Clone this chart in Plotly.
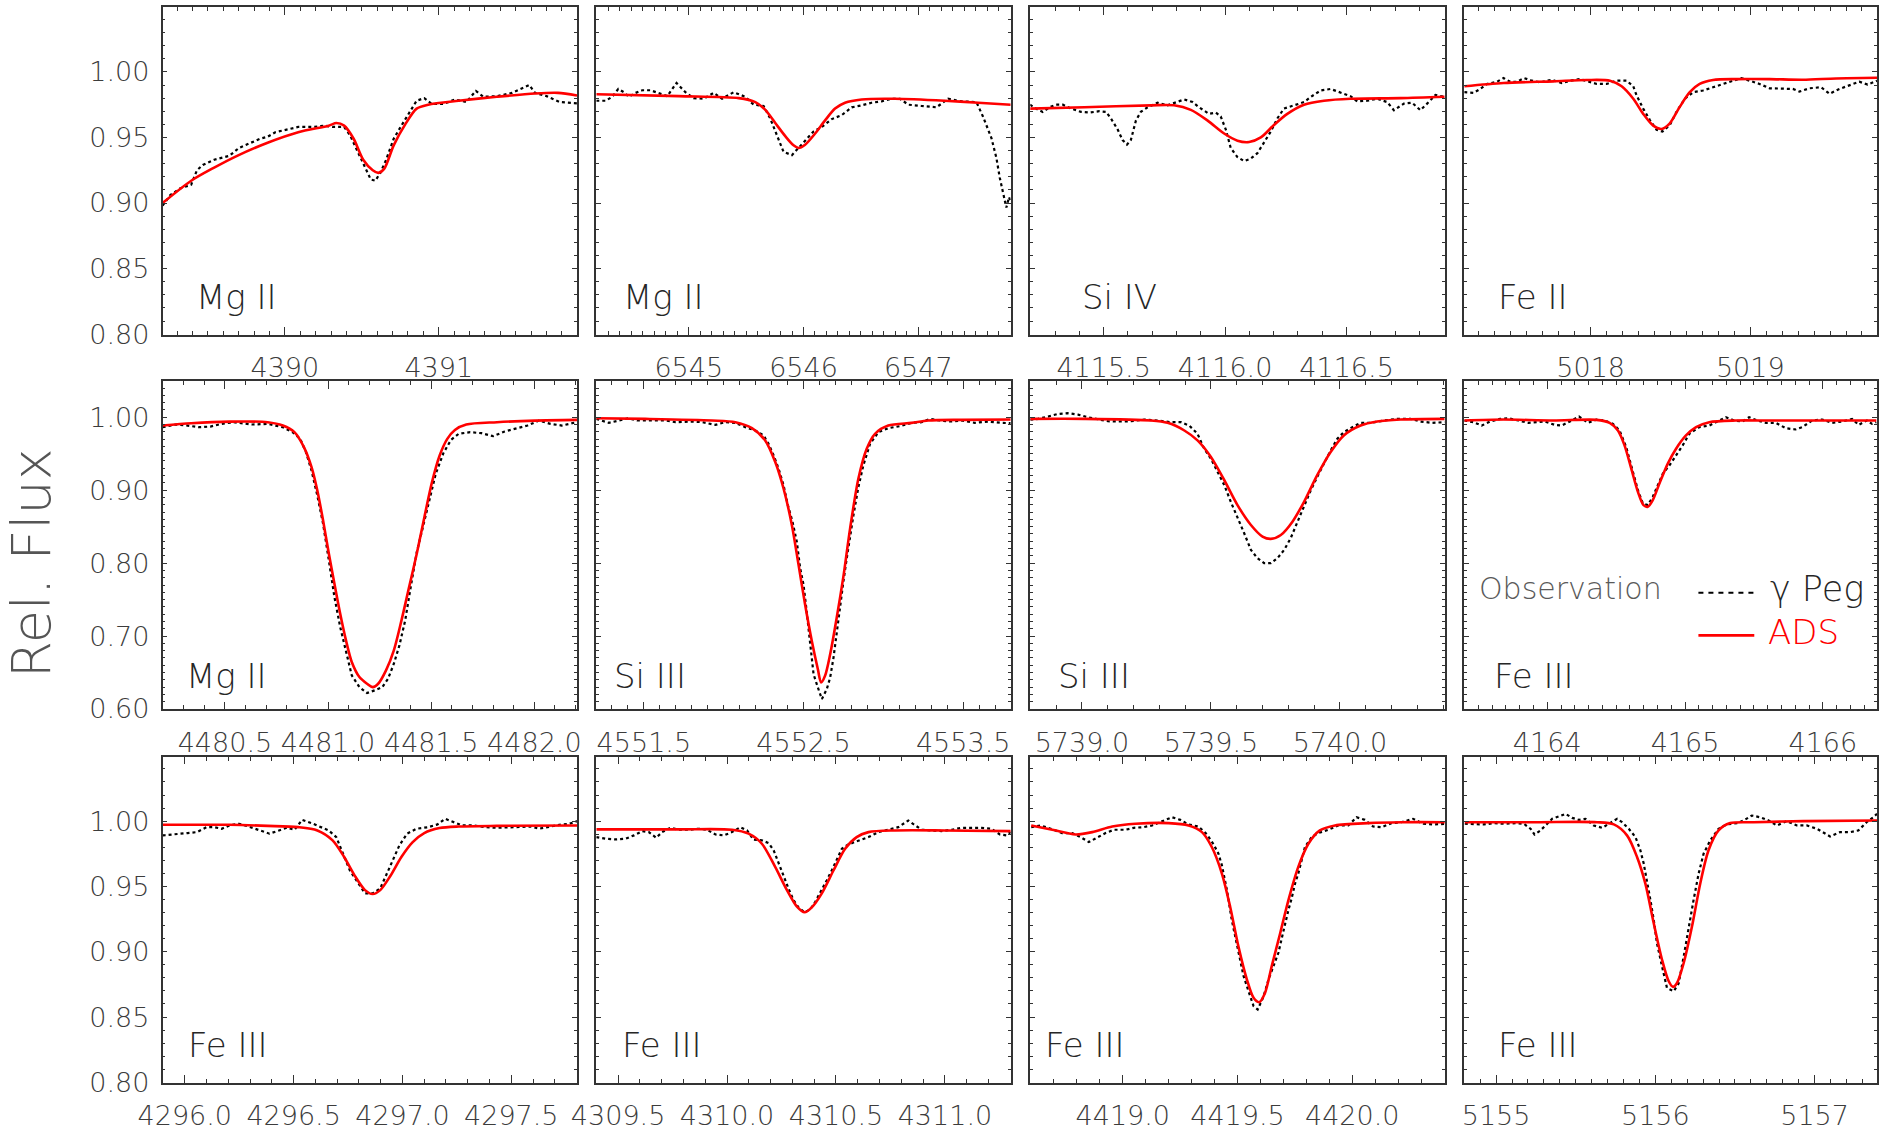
import plotly.graph_objects as go

# ---------------- data (wavelength in Angstrom, relative flux) ----------------
ions = ["Mg II", "Mg II", "Si IV", "Fe II",
        "Mg II", "Si III", "Si III", "Fe III",
        "Fe III", "Fe III", "Fe III", "Fe III"]

# Panel 1: Mg II 4390.6
p1_obs_x = [4389.206, 4389.256, 4389.318, 4389.392, 4389.429, 4389.467, 4389.541, 4389.640, 4389.702, 4389.764,
            4389.839, 4389.888, 4389.938, 4390.012, 4390.087, 4390.186, 4390.261, 4390.310, 4390.385, 4390.422,
            4390.471, 4390.521, 4390.558, 4390.588, 4390.620, 4390.658, 4390.707, 4390.757, 4390.806, 4390.856,
            4390.906, 4390.955, 4391.030, 4391.104, 4391.179, 4391.241, 4391.290, 4391.377, 4391.476, 4391.551,
            4391.588, 4391.625, 4391.700, 4391.787, 4391.898]
p1_obs_y = [0.898, 0.906, 0.911, 0.914, 0.925, 0.929, 0.933, 0.936, 0.942, 0.945,
            0.949, 0.9505, 0.954, 0.956, 0.958, 0.958, 0.959, 0.958, 0.958, 0.952,
            0.940, 0.927, 0.918, 0.917, 0.923, 0.933, 0.949, 0.959, 0.968, 0.978,
            0.980, 0.9755, 0.9755, 0.979, 0.977, 0.9855, 0.981, 0.9815, 0.984, 0.988,
            0.990, 0.984, 0.9815, 0.977, 0.976]
p1_ads_x = [4389.206, 4389.392, 4389.541, 4389.690, 4389.888, 4390.087, 4390.285, 4390.335, 4390.385, 4390.447,
            4390.509, 4390.571, 4390.608, 4390.645, 4390.707, 4390.782, 4390.856, 4390.931, 4391.129, 4391.377,
            4391.625, 4391.774, 4391.898]
p1_ads_y = [0.900, 0.917, 0.927, 0.936, 0.946, 0.954, 0.959, 0.961, 0.959, 0.949,
            0.933, 0.925, 0.923, 0.926, 0.944, 0.960, 0.972, 0.975, 0.978, 0.981,
            0.9835, 0.984, 0.982]

# Panel 2: Mg II 6545.9
p2_obs_x = [6544.194, 6544.275, 6544.333, 6544.386, 6544.435, 6544.478, 6544.536, 6544.594, 6544.667, 6544.739,
            6544.812, 6544.893, 6544.971, 6545.043, 6545.130, 6545.217, 6545.290, 6545.391, 6545.493, 6545.565,
            6545.652, 6545.710, 6545.768, 6545.826, 6545.899, 6545.957, 6546.014, 6546.087, 6546.159, 6546.246,
            6546.333, 6546.420, 6546.507, 6546.594, 6546.681, 6546.768, 6546.841, 6546.913, 6547.029, 6547.159,
            6547.261, 6547.377, 6547.507, 6547.565, 6547.638, 6547.681, 6547.710, 6547.739, 6547.768, 6547.791,
            6547.806]
p2_obs_y = [0.978, 0.978, 0.981, 0.987, 0.9845, 0.981, 0.984, 0.986, 0.986, 0.984,
            0.9815, 0.9915, 0.9845, 0.980, 0.9795, 0.984, 0.9795, 0.9845, 0.981, 0.975,
            0.974, 0.9645, 0.952, 0.939, 0.9365, 0.942, 0.9475, 0.9545, 0.958, 0.964,
            0.967, 0.973, 0.9745, 0.9765, 0.9775, 0.9795, 0.9795, 0.975, 0.974, 0.973,
            0.9795, 0.9775, 0.977, 0.9658, 0.9495, 0.9345, 0.9195, 0.907, 0.8965, 0.9045,
            0.9008]
p2_ads_x = [6544.194, 6544.913, 6545.435, 6545.580, 6545.667, 6545.754, 6545.841, 6545.913, 6545.957, 6546.014,
            6546.101, 6546.188, 6546.275, 6546.362, 6546.507, 6546.797, 6547.232, 6547.522, 6547.806]
p2_ads_y = [0.983, 0.9815, 0.980, 0.977, 0.971, 0.961, 0.951, 0.944, 0.942, 0.9445,
            0.953, 0.963, 0.972, 0.9765, 0.979, 0.9795, 0.978, 0.9765, 0.975]

# Panel 3: Si IV 4116.1
p3_obs_x = [4115.197, 4115.222, 4115.249, 4115.277, 4115.304, 4115.332, 4115.366, 4115.407, 4115.441, 4115.482,
            4115.510, 4115.530, 4115.558, 4115.578, 4115.596, 4115.612, 4115.633, 4115.653, 4115.681, 4115.722,
            4115.763, 4115.804, 4115.832, 4115.866, 4115.893, 4115.934, 4115.962, 4115.982, 4116.003, 4116.023,
            4116.051, 4116.078, 4116.105, 4116.133, 4116.160, 4116.188, 4116.215, 4116.242, 4116.284, 4116.325,
            4116.352, 4116.393, 4116.434, 4116.475, 4116.516, 4116.544, 4116.585, 4116.626, 4116.667, 4116.695,
            4116.736, 4116.770, 4116.804, 4116.838, 4116.866, 4116.904]
p3_obs_y = [0.975, 0.972, 0.9695, 0.973, 0.975, 0.975, 0.972, 0.9695, 0.969, 0.970,
            0.9695, 0.9645, 0.956, 0.948, 0.9445, 0.948, 0.963, 0.9695, 0.973, 0.9765,
            0.9745, 0.977, 0.979, 0.977, 0.973, 0.968, 0.969, 0.966, 0.956, 0.942,
            0.935, 0.932, 0.9338, 0.938, 0.9458, 0.9545, 0.9645, 0.972, 0.9745, 0.977,
            0.9808, 0.9858, 0.987, 0.9845, 0.9815, 0.9775, 0.978, 0.9795, 0.977, 0.9708,
            0.9758, 0.9765, 0.9708, 0.977, 0.9825, 0.9808]
p3_ads_x = [4115.197, 4115.421, 4115.695, 4115.790, 4115.859, 4115.927, 4115.996, 4116.051, 4116.099, 4116.147,
            4116.201, 4116.256, 4116.325, 4116.407, 4116.516, 4116.722, 4116.904]
p3_ads_y = [0.972, 0.973, 0.9745, 0.9745, 0.971, 0.963, 0.953, 0.9475, 0.9465, 0.950,
            0.9595, 0.968, 0.975, 0.978, 0.9795, 0.980, 0.981]

# Panel 4: Fe II 5018.4
p4_obs_x = [5017.208, 5017.267, 5017.308, 5017.350, 5017.413, 5017.454, 5017.496, 5017.538, 5017.583, 5017.631,
            5017.683, 5017.756, 5017.819, 5017.871, 5017.933, 5017.996, 5018.038, 5018.100, 5018.163, 5018.225,
            5018.267, 5018.288, 5018.329, 5018.371, 5018.413, 5018.450, 5018.496, 5018.538, 5018.590, 5018.642,
            5018.704, 5018.767, 5018.829, 5018.892, 5018.944, 5018.996, 5019.058, 5019.121, 5019.204, 5019.267,
            5019.308, 5019.371, 5019.444, 5019.496, 5019.558, 5019.621, 5019.683, 5019.735, 5019.794]
p4_obs_y = [0.9845, 0.984, 0.987, 0.9908, 0.9925, 0.9953, 0.9925, 0.9925, 0.9953, 0.9933,
            0.992, 0.994, 0.9915, 0.9933, 0.9945, 0.992, 0.9908, 0.9908, 0.9933, 0.9933,
            0.989, 0.982, 0.972, 0.9633, 0.9558, 0.9545, 0.9595, 0.9695, 0.9795, 0.9845,
            0.9858, 0.9883, 0.9908, 0.9933, 0.9953, 0.9933, 0.9908, 0.9875, 0.9875, 0.987,
            0.985, 0.9875, 0.9883, 0.9833, 0.987, 0.990, 0.9925, 0.9903, 0.9933]
p4_ads_x = [5017.208, 5017.454, 5017.767, 5017.975, 5018.121, 5018.194, 5018.267, 5018.329, 5018.392, 5018.444,
            5018.496, 5018.558, 5018.621, 5018.683, 5018.767, 5018.913, 5019.121, 5019.329, 5019.538, 5019.794]
p4_ads_y = [0.989, 0.9915, 0.9928, 0.9938, 0.9933, 0.989, 0.9795, 0.968, 0.959, 0.9565,
            0.9608, 0.9733, 0.9845, 0.9908, 0.9938, 0.9945, 0.9945, 0.994, 0.995, 0.9955]

# Panel 5: Mg II 4481.2
p5_obs_x = [4480.198, 4480.263, 4480.319, 4480.374, 4480.430, 4480.485, 4480.541, 4480.596, 4480.633, 4480.707,
            4480.781, 4480.828, 4480.865, 4480.893, 4480.920, 4480.948, 4480.976, 4481.004, 4481.031, 4481.059,
            4481.087, 4481.115, 4481.152, 4481.189, 4481.226, 4481.263, 4481.291, 4481.319, 4481.346, 4481.374,
            4481.402, 4481.430, 4481.448, 4481.467, 4481.494, 4481.522, 4481.559, 4481.596, 4481.633, 4481.689,
            4481.744, 4481.800, 4481.856, 4481.911, 4481.967, 4482.022, 4482.078, 4482.133, 4482.207]
p5_obs_y = [0.9863, 0.990, 0.9886, 0.9863, 0.9872, 0.9909, 0.9932, 0.9918, 0.990, 0.9909,
            0.9863, 0.9795, 0.9703, 0.9521, 0.9269, 0.8927, 0.8539, 0.8037, 0.7534, 0.7123,
            0.6781, 0.6461, 0.6301, 0.6219, 0.6256, 0.6301, 0.6416, 0.6621, 0.6872, 0.7215,
            0.7694, 0.8151, 0.8356, 0.8584, 0.8927, 0.9224, 0.9507, 0.9689, 0.9772, 0.9795,
            0.9781, 0.974, 0.9804, 0.984, 0.9886, 0.9954, 0.9909, 0.9886, 0.9932]
p5_ads_x = [4480.198, 4480.337, 4480.522, 4480.707, 4480.781, 4480.837, 4480.883, 4480.920, 4480.948, 4480.976,
            4481.004, 4481.031, 4481.059, 4481.087, 4481.115, 4481.152, 4481.189, 4481.217, 4481.244, 4481.281,
            4481.319, 4481.356, 4481.393, 4481.430, 4481.467, 4481.504, 4481.541, 4481.578, 4481.615, 4481.670,
            4481.819, 4482.004, 4482.207]
p5_ads_y = [0.9886, 0.9918, 0.994, 0.9932, 0.9886, 0.9795, 0.959, 0.9315, 0.8995, 0.8584,
            0.8128, 0.7717, 0.7306, 0.6941, 0.6644, 0.6438, 0.6347, 0.6300, 0.6350, 0.6530,
            0.6804, 0.7215, 0.7671, 0.8128, 0.8630, 0.9110, 0.9475, 0.9703, 0.9826, 0.9900,
            0.9932, 0.9954, 0.9963]

# Panel 6: Si III 4552.6
p6_obs_x = [4551.202, 4551.281, 4551.344, 4551.402, 4551.458, 4551.552, 4551.635, 4551.698, 4551.802, 4551.865,
            4551.948, 4552.010, 4552.073, 4552.135, 4552.198, 4552.250, 4552.281, 4552.313, 4552.344, 4552.375,
            4552.402, 4552.431, 4552.458, 4552.479, 4552.500, 4552.515, 4552.535, 4552.563, 4552.590, 4552.615,
            4552.646, 4552.667, 4552.688, 4552.708, 4552.729, 4552.750, 4552.771, 4552.792, 4552.813, 4552.844,
            4552.875, 4552.917, 4552.969, 4553.031, 4553.104, 4553.177, 4553.240, 4553.292, 4553.354, 4553.427,
            4553.490, 4553.573, 4553.656, 4553.740, 4553.798]
p6_obs_y = [0.9977, 0.9923, 0.9955, 0.9986, 0.9955, 0.9955, 0.9955, 0.9932, 0.9941, 0.9932,
            0.9895, 0.9932, 0.9923, 0.9864, 0.9818, 0.975, 0.9636, 0.9477, 0.9295, 0.9068,
            0.8795, 0.8568, 0.8295, 0.7932, 0.7705, 0.7432, 0.7068, 0.6477, 0.6295, 0.6136,
            0.6273, 0.6432, 0.6705, 0.7068, 0.7386, 0.775, 0.8068, 0.8386, 0.8659, 0.9045,
            0.9341, 0.9636, 0.9795, 0.985, 0.9877, 0.9923, 0.9932, 0.9977, 0.9955, 0.9941,
            0.9955, 0.9923, 0.9941, 0.9923, 0.9918]
p6_ads_x = [4551.202, 4551.510, 4551.927, 4552.073, 4552.177, 4552.260, 4552.323, 4552.375, 4552.427, 4552.469,
            4552.510, 4552.552, 4552.590, 4552.610, 4552.635, 4552.667, 4552.708, 4552.750, 4552.792, 4552.844,
            4552.896, 4552.948, 4553.031, 4553.177, 4553.281, 4553.490, 4553.798]
p6_ads_y = [0.9986, 0.9977, 0.9955, 0.9932, 0.985, 0.9682, 0.9386, 0.9023, 0.8523, 0.7977,
            0.7432, 0.6932, 0.6545, 0.6364, 0.6455, 0.675, 0.725, 0.7818, 0.8477, 0.9159,
            0.9568, 0.9773, 0.9886, 0.9923, 0.9955, 0.9964, 0.9968]

# Panel 7: Si III 5739.7
p7_obs_x = [5738.800, 5738.830, 5738.869, 5738.907, 5738.946, 5738.985, 5739.023, 5739.062, 5739.101, 5739.139,
            5739.191, 5739.242, 5739.294, 5739.345, 5739.384, 5739.416, 5739.448, 5739.474, 5739.500, 5739.526,
            5739.552, 5739.577, 5739.603, 5739.629, 5739.655, 5739.680, 5739.706, 5739.732, 5739.758, 5739.784,
            5739.809, 5739.835, 5739.861, 5739.887, 5739.912, 5739.938, 5739.964, 5739.990, 5740.015, 5740.041,
            5740.080, 5740.119, 5740.170, 5740.222, 5740.273, 5740.312, 5740.357, 5740.406]
p7_obs_y = [0.9968, 0.9977, 1.0009, 1.0045, 1.0055, 1.0036, 1.000, 0.9968, 0.9945, 0.9941,
            0.9945, 0.9968, 0.9955, 0.9932, 0.9932, 0.9886, 0.9773, 0.9568, 0.9432, 0.925,
            0.9068, 0.8841, 0.8636, 0.8409, 0.8182, 0.8068, 0.800, 0.800, 0.8068, 0.8182,
            0.8341, 0.8568, 0.8795, 0.900, 0.9182, 0.9364, 0.9545, 0.9705, 0.9795, 0.985,
            0.9923, 0.9923, 0.9955, 0.9977, 0.9977, 0.9941, 0.9923, 0.9932]
p7_ads_x = [5738.800, 5739.010, 5739.268, 5739.332, 5739.397, 5739.448, 5739.500, 5739.552, 5739.603, 5739.655,
            5739.700, 5739.732, 5739.771, 5739.816, 5739.861, 5739.912, 5739.964, 5740.015, 5740.080, 5740.144,
            5740.235, 5740.406]
p7_ads_y = [0.9977, 0.9977, 0.9955, 0.9923, 0.9818, 0.9682, 0.9455, 0.9136, 0.8795, 0.8523,
            0.8364, 0.8332, 0.8386, 0.8568, 0.8841, 0.9205, 0.9523, 0.975, 0.9886, 0.9941,
            0.9968, 0.9977]

# Panel 8: Fe III 4164.7
p8_obs_x = [4163.398, 4163.465, 4163.525, 4163.586, 4163.658, 4163.718, 4163.790, 4163.863, 4163.923, 4163.983,
            4164.055, 4164.104, 4164.164, 4164.231, 4164.296, 4164.357, 4164.417, 4164.477, 4164.525, 4164.573,
            4164.622, 4164.658, 4164.694, 4164.730, 4164.766, 4164.802, 4164.839, 4164.887, 4164.935, 4164.983,
            4165.031, 4165.104, 4165.176, 4165.236, 4165.296, 4165.357, 4165.417, 4165.465, 4165.525, 4165.586,
            4165.658, 4165.730, 4165.802, 4165.851, 4165.923, 4165.995, 4166.067, 4166.140, 4166.212, 4166.260,
            4166.320, 4166.357, 4166.388]
p8_obs_y = [0.9955, 0.9932, 0.9886, 0.9941, 0.9977, 0.9986, 0.9955, 0.9923, 0.9932, 0.9941,
            0.9895, 0.9886, 0.9941, 1.0009, 0.9923, 0.9968, 0.9955, 0.9909, 0.9818, 0.9591,
            0.925, 0.900, 0.8818, 0.8795, 0.8909, 0.9068, 0.9227, 0.9341, 0.9477, 0.9614,
            0.9773, 0.9864, 0.9886, 0.9941, 1.000, 0.9955, 0.9941, 1.000, 0.9955, 0.9923,
            0.9923, 0.985, 0.9832, 0.9864, 0.9955, 0.9968, 0.9923, 0.9941, 0.9977, 0.9895,
            0.9955, 0.9909, 0.9932]
p8_ads_x = [4163.398, 4163.682, 4164.043, 4164.357, 4164.453, 4164.513, 4164.561, 4164.610, 4164.658, 4164.699,
            4164.730, 4164.766, 4164.814, 4164.875, 4164.935, 4165.007, 4165.080, 4165.176, 4165.369, 4165.610,
            4165.851, 4166.388]
p8_ads_y = [0.9955, 0.9968, 0.9955, 0.9964, 0.9923, 0.9818, 0.9614, 0.9295, 0.8977, 0.8795,
            0.8773, 0.8864, 0.9091, 0.9364, 0.9568, 0.975, 0.9864, 0.9932, 0.9955, 0.9955,
            0.9955, 0.9955]

# Panel 9: Fe III 4296.9
p9_obs_x = [4295.898, 4295.960, 4296.012, 4296.056, 4296.100, 4296.135, 4296.170, 4296.205, 4296.249, 4296.293,
            4296.346, 4296.389, 4296.433, 4296.468, 4296.504, 4296.539, 4296.582, 4296.626, 4296.661, 4296.696,
            4296.732, 4296.758, 4296.793, 4296.828, 4296.863, 4296.898, 4296.925, 4296.951, 4296.986, 4297.021,
            4297.065, 4297.118, 4297.161, 4297.196, 4297.232, 4297.275, 4297.328, 4297.381, 4297.433, 4297.486,
            4297.539, 4297.591, 4297.626, 4297.679, 4297.732, 4297.767, 4297.802]
p9_obs_y = [0.9891, 0.9898, 0.9909, 0.9916, 0.9954, 0.9954, 0.9942, 0.9967, 0.998, 0.9959,
            0.9929, 0.9904, 0.9929, 0.9949, 0.9934, 1.001, 0.9985, 0.9954, 0.9929, 0.9878,
            0.9726, 0.9624, 0.9536, 0.9447, 0.9447, 0.9485, 0.9586, 0.9688, 0.9815, 0.9904,
            0.9942, 0.9954, 0.9975, 1.0018, 0.9992, 0.9967, 0.9967, 0.9954, 0.9949, 0.9954,
            0.9954, 0.9959, 0.9942, 0.9959, 0.9975, 0.998, 1.000]
p9_ads_x = [4295.898, 4296.205, 4296.381, 4296.521, 4296.609, 4296.679, 4296.732, 4296.784, 4296.828, 4296.863,
            4296.898, 4296.942, 4296.995, 4297.047, 4297.100, 4297.170, 4297.258, 4297.433, 4297.802]
p9_ads_y = [0.9972, 0.9972, 0.9964, 0.9954, 0.9929, 0.9853, 0.9726, 0.9574, 0.9472, 0.9442,
            0.9472, 0.9574, 0.9726, 0.984, 0.9909, 0.9947, 0.9959, 0.9964, 0.9967]

# Panel 10: Fe III 4310.4
p10_obs_x = [4309.400, 4309.443, 4309.489, 4309.534, 4309.573, 4309.611, 4309.641, 4309.675, 4309.702, 4309.740,
             4309.779, 4309.824, 4309.870, 4309.908, 4309.947, 4309.985, 4310.023, 4310.061, 4310.092, 4310.122,
             4310.160, 4310.191, 4310.214, 4310.237, 4310.260, 4310.282, 4310.305, 4310.328, 4310.356, 4310.382,
             4310.405, 4310.435, 4310.458, 4310.481, 4310.504, 4310.527, 4310.557, 4310.603, 4310.649, 4310.695,
             4310.740, 4310.786, 4310.832, 4310.863, 4310.893, 4310.939, 4310.985, 4311.031, 4311.076, 4311.122,
             4311.168, 4311.214, 4311.252, 4311.282, 4311.302]
p10_obs_y = [0.9878, 0.9865, 0.986, 0.9865, 0.9891, 0.9924, 0.9916, 0.9873, 0.9916, 0.9949,
             0.9934, 0.9934, 0.9942, 0.9934, 0.9898, 0.9891, 0.9916, 0.9954, 0.9929, 0.9858,
             0.9853, 0.9832, 0.9777, 0.9675, 0.9574, 0.9485, 0.9396, 0.934, 0.9302, 0.9325,
             0.9383, 0.9472, 0.9548, 0.9624, 0.9713, 0.9789, 0.9822, 0.9853, 0.9878, 0.9916,
             0.9934, 0.9954, 1.0005, 0.9967, 0.9934, 0.9929, 0.9924, 0.9934, 0.9949, 0.9949,
             0.9949, 0.9942, 0.9898, 0.9891, 0.9916]
p10_ads_x = [4309.400, 4309.779, 4310.023, 4310.099, 4310.160, 4310.221, 4310.275, 4310.321, 4310.356, 4310.389,
             4310.435, 4310.489, 4310.542, 4310.595, 4310.649, 4310.771, 4311.000, 4311.302]
p10_ads_y = [0.9937, 0.9937, 0.9934, 0.9904, 0.9827, 0.965, 0.9472, 0.9345, 0.9302, 0.934,
             0.9447, 0.9624, 0.9789, 0.9878, 0.9916, 0.9929, 0.9929, 0.9924]

# Panel 11: Fe III 4419.6
p11_obs_x = [4418.601, 4418.642, 4418.686, 4418.736, 4418.780, 4418.816, 4418.852, 4418.888, 4418.925, 4418.961,
             4419.012, 4419.048, 4419.091, 4419.128, 4419.171, 4419.214, 4419.251, 4419.287, 4419.330, 4419.367,
             4419.396, 4419.417, 4419.432, 4419.454, 4419.475, 4419.504, 4419.526, 4419.548, 4419.570, 4419.588,
             4419.613, 4419.635, 4419.657, 4419.678, 4419.693, 4419.707, 4419.722, 4419.736, 4419.751, 4419.765,
             4419.780, 4419.794, 4419.823, 4419.852, 4419.896, 4419.939, 4419.983, 4420.019, 4420.055, 4420.091,
             4420.128, 4420.171, 4420.214, 4420.265, 4420.309, 4420.359, 4420.407]
p11_obs_y = [0.9954, 0.9967, 0.9942, 0.9909, 0.9909, 0.9878, 0.984, 0.9873, 0.9909, 0.9934,
             0.9934, 0.9949, 0.9954, 0.9967, 1.000, 1.003, 1.001, 0.9975, 0.9959, 0.9898,
             0.9822, 0.9751, 0.9662, 0.9472, 0.9244, 0.9015, 0.8817, 0.8698, 0.8584, 0.8558,
             0.8655, 0.8787, 0.8888, 0.899, 0.9104, 0.9218, 0.932, 0.9409, 0.9523, 0.9599,
             0.9701, 0.9802, 0.9878, 0.9909, 0.9934, 0.9967, 0.9967, 1.003, 1.001, 0.9959,
             0.9954, 0.9985, 0.9992, 1.0018, 0.998, 0.9975, 0.998]
p11_ads_x = [4418.601, 4418.693, 4418.794, 4418.867, 4418.954, 4419.055, 4419.200, 4419.287, 4419.345, 4419.388,
             4419.432, 4419.468, 4419.504, 4419.541, 4419.570, 4419.594, 4419.620, 4419.649, 4419.686, 4419.722,
             4419.765, 4419.809, 4419.859, 4419.925, 4420.070, 4420.214, 4420.407]
p11_ads_y = [0.9967, 0.9934, 0.9898, 0.9916, 0.9959, 0.998, 0.9985, 0.9967, 0.9916, 0.9802,
             0.9599, 0.9345, 0.9041, 0.8787, 0.8647, 0.8614, 0.8685, 0.8888, 0.9142, 0.9396,
             0.965, 0.9827, 0.9929, 0.9967, 0.9985, 0.9992, 0.9992]

# Panel 12: Fe III 5156.1
p12_obs_x = [5154.803, 5154.861, 5154.924, 5154.987, 5155.049, 5155.122, 5155.174, 5155.216, 5155.241, 5155.279,
             5155.310, 5155.352, 5155.394, 5155.436, 5155.478, 5155.519, 5155.561, 5155.613, 5155.666, 5155.707,
             5155.760, 5155.791, 5155.833, 5155.875, 5155.906, 5155.927, 5155.948, 5155.969, 5155.990, 5156.010,
             5156.042, 5156.073, 5156.115, 5156.146, 5156.178, 5156.209, 5156.240, 5156.272, 5156.303, 5156.345,
             5156.397, 5156.449, 5156.512, 5156.554, 5156.606, 5156.658, 5156.711, 5156.763, 5156.825, 5156.888,
             5156.951, 5157.014, 5157.066, 5157.097, 5157.160, 5157.223, 5157.275, 5157.327, 5157.369, 5157.392]
p12_obs_y = [0.998, 0.998, 0.9975, 0.9985, 0.998, 0.9985, 0.998, 0.9942, 0.9898, 0.9929,
             0.9967, 1.0018, 1.0036, 1.0056, 1.0025, 1.001, 1.0018, 0.9967, 0.9949, 0.998,
             1.0018, 0.9992, 0.9942, 0.9878, 0.9777, 0.9675, 0.9548, 0.9396, 0.9244, 0.9066,
             0.8888, 0.8723, 0.8698, 0.8756, 0.8964, 0.9193, 0.9396, 0.9599, 0.9751, 0.9853,
             0.9942, 0.9975, 0.9985, 1.0005, 1.0043, 1.003, 1.0005, 0.9967, 1.000, 0.9967,
             0.9967, 0.9942, 0.9904, 0.9883, 0.9916, 0.9916, 0.9929, 0.9992, 1.003, 1.0056]
p12_ads_x = [5154.803, 5155.258, 5155.634, 5155.739, 5155.822, 5155.885, 5155.937, 5155.990, 5156.042, 5156.084,
             5156.111, 5156.136, 5156.178, 5156.230, 5156.282, 5156.334, 5156.397, 5156.470, 5156.617, 5156.930,
             5157.392]
p12_ads_y = [0.9992, 0.9992, 0.9992, 0.9975, 0.9891, 0.9726, 0.9523, 0.9218, 0.8939, 0.8774,
             0.8731, 0.8761, 0.8914, 0.9193, 0.9523, 0.9777, 0.9929, 0.9985, 0.9992, 1.000,
             1.0005]

obs_x = [p1_obs_x, p2_obs_x, p3_obs_x, p4_obs_x, p5_obs_x, p6_obs_x,
         p7_obs_x, p8_obs_x, p9_obs_x, p10_obs_x, p11_obs_x, p12_obs_x]
obs_y = [p1_obs_y, p2_obs_y, p3_obs_y, p4_obs_y, p5_obs_y, p6_obs_y,
         p7_obs_y, p8_obs_y, p9_obs_y, p10_obs_y, p11_obs_y, p12_obs_y]
ads_x = [p1_ads_x, p2_ads_x, p3_ads_x, p4_ads_x, p5_ads_x, p6_ads_x,
         p7_ads_x, p8_ads_x, p9_ads_x, p10_ads_x, p11_ads_x, p12_ads_x]
ads_y = [p1_ads_y, p2_ads_y, p3_ads_y, p4_ads_y, p5_ads_y, p6_ads_y,
         p7_ads_y, p8_ads_y, p9_ads_y, p10_ads_y, p11_ads_y, p12_ads_y]

# x-axis ranges and tick steps
x_ranges = [[4389.206, 4391.898], [6544.194, 6547.806], [4115.198, 4116.904], [5017.208, 5019.794],
            [4480.198, 4482.207], [4551.202, 4553.798], [5738.800, 5740.406], [4163.398, 4166.393],
            [4295.898, 4297.802], [4309.400, 4311.302], [4418.597, 4420.403], [5154.800, 5157.392]]
x_tick0 = [4390, 6545, 4115.5, 5018, 4480.5, 4551.5, 5739.0, 4164, 4296.0, 4309.5, 4419.0, 5155]
x_dtick = [1, 1, 0.5, 1, 0.5, 1, 0.5, 1, 0.5, 0.5, 0.5, 1]
x_fmt = ["d", "d", ".1f", "d", ".1f", ".1f", ".1f", "d", ".1f", ".1f", ".1f", "d"]

# ---------------- layout geometry (pixels) ----------------
W, H = 1881, 1131
ML, MT, MB = 162, 7, 44
PW = W - ML
PH = H - MT - MB
col_px = [(162.6, 578.0), (597.3, 1012.7), (1032.3, 1447.7), (1467.3, 1881.0)]
row_px = [(7.0, 336.0), (382.5, 712.0), (759.3, 1087.0)]


def px_x(px):
    return (px - ML) / PW


def px_y(py):
    return (H - MB - py) / PH


label_px = [(194, 298), (622, 298), (1082, 298), (1499, 298),
            (184, 678), (613, 678), (1058, 678), (1495, 678),
            (186, 1049), (621, 1049), (1045, 1049), (1499, 1049)]

TXT = "DejaVu Sans"
AX = "#333333"
TICKFONT = dict(family=TXT, size=27, color="#3c3c3c", weight=300)

fig = go.Figure()
layout = {}
annotations = []

for i in range(12):
    r, c = divmod(i, 4)
    n = i + 1
    xa = "x" if n == 1 else f"x{n}"
    ya = "y" if n == 1 else f"y{n}"
    xkey = "xaxis" if n == 1 else f"xaxis{n}"
    ykey = "yaxis" if n == 1 else f"yaxis{n}"

    fig.add_trace(go.Scatter(x=obs_x[i], y=obs_y[i], xaxis=xa, yaxis=ya, mode="lines",
                             line=dict(color="black", width=2.2, dash="dot"),
                             showlegend=False, hoverinfo="skip"))
    fig.add_trace(go.Scatter(x=ads_x[i], y=ads_y[i], xaxis=xa, yaxis=ya, mode="lines",
                             line=dict(color="#ff0000", width=2.6, shape="spline", smoothing=0.8),
                             showlegend=False, hoverinfo="skip"))

    x0, x1 = col_px[c]
    y0, y1 = row_px[r]
    layout[xkey] = dict(
        domain=[px_x(x0), min(1.0, px_x(x1))], anchor=ya, range=x_ranges[i],
        tickmode="linear", tick0=x_tick0[i], dtick=x_dtick[i], tickformat=x_fmt[i],
        ticks="inside", ticklen=8, tickwidth=1.3, tickcolor=AX,
        showline=True, linecolor=AX, linewidth=1.6, mirror="ticks",
        showgrid=False, zeroline=False, ticklabelstandoff=8,
        tickfont=TICKFONT,
        minor=dict(tickmode="linear", tick0=x_tick0[i], dtick=0.1, ticks="inside",
                   ticklen=4.3, tickwidth=1.1, tickcolor=AX, showgrid=False),
    )
    if r == 1:
        yr, yd, yt0 = [0.5995, 1.0495], 0.1, 0.6
    else:
        yr, yd, yt0 = [0.7995, 1.0495], 0.05, 0.8
    layout[ykey] = dict(
        domain=[px_y(y1), px_y(y0)], anchor=xa, range=yr,
        tickmode="linear", tick0=yt0, dtick=yd, tickformat=".2f",
        ticks="inside", ticklen=5, tickwidth=1.3, tickcolor=AX,
        showline=True, linecolor=AX, linewidth=1.6, mirror="ticks",
        showgrid=False, zeroline=False, showticklabels=(c == 0), ticklabelstandoff=6,
        tickfont=TICKFONT,
        minor=dict(tickmode="linear", tick0=yt0, dtick=0.01, ticks="inside",
                   ticklen=2.8, tickwidth=1.0, tickcolor=AX, showgrid=False),
    )
    lx, ly = label_px[i]
    annotations.append(dict(text=ions[i], xref="paper", yref="paper", x=px_x(lx), y=px_y(ly),
                            xanchor="left", yanchor="middle", showarrow=False,
                            font=dict(family=TXT, size=34, color="#262626", weight=300)))

# y-axis title
annotations.append(dict(text="Rel. Flux", xref="paper", yref="paper", x=px_x(32), y=px_y(565),
                        xanchor="center", yanchor="middle", textangle=-90, showarrow=False,
                        font=dict(family=TXT, size=54, color="#555555", weight=300)))

# manual legend inside panel 8
annotations.append(dict(text="Observation", xref="paper", yref="paper", x=px_x(1480), y=px_y(591),
                        xanchor="left", yanchor="middle", showarrow=False,
                        font=dict(family=TXT, size=30, color="#5a5a5a", weight=300)))
annotations.append(dict(text="γ Peg", xref="paper", yref="paper", x=px_x(1772), y=px_y(591),
                        xanchor="left", yanchor="middle", showarrow=False,
                        font=dict(family=TXT, size=35, color="#262626", weight=300)))
annotations.append(dict(text="ADS", xref="paper", yref="paper", x=px_x(1770), y=px_y(634),
                        xanchor="left", yanchor="middle", showarrow=False,
                        font=dict(family=TXT, size=34, color="#ff0000", weight=300)))
shapes = [
    dict(type="line", xref="paper", yref="paper", x0=px_x(1702), x1=px_x(1760), y0=px_y(595), y1=px_y(595),
         line=dict(color="black", width=2, dash="5px,5px")),
    dict(type="line", xref="paper", yref="paper", x0=px_x(1702), x1=px_x(1758), y0=px_y(637.7), y1=px_y(637.7),
         line=dict(color="#ff0000", width=2.6)),
]

fig.update_layout(
    width=W, height=H, margin=dict(l=ML, r=0, t=MT, b=MB, pad=0),
    paper_bgcolor="white", plot_bgcolor="white", showlegend=False,
    annotations=annotations, shapes=shapes, **layout,
)

fig.write_html("out.html")
